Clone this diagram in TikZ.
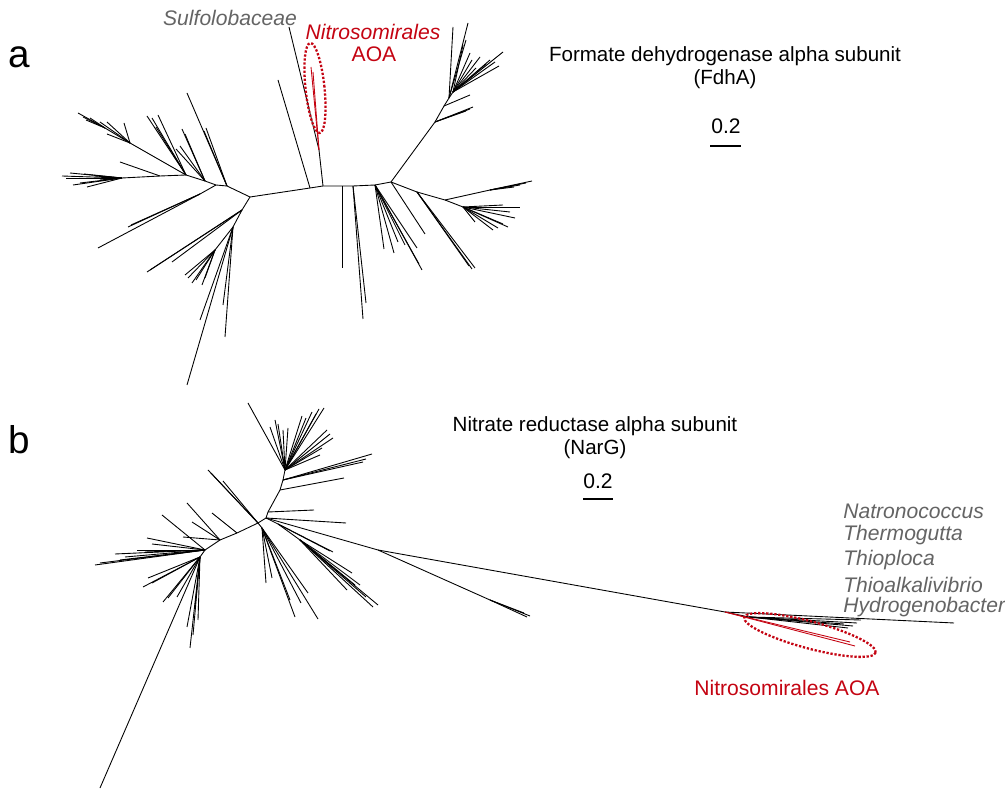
\documentclass[tikz,border=0pt]{standalone}
\usepackage{fontspec}
\setmainfont{Liberation Sans}
\usetikzlibrary{shapes.geometric}
\definecolor{aoared}{RGB}{196,4,18}
\definecolor{taxgray}{RGB}{100,100,100}

\begin{document}
\begin{tikzpicture}
  [x=0.02cm, y=-0.02cm,
   branch/.style={line width=0.5pt},
   aoa/.style={line width=0.5pt, draw=aoared},
   every node/.style={inner sep=0pt, font=\fontsize{12}{14}\selectfont},
   taxon/.style={text=taxgray, font=\fontsize{12}{14}\selectfont\itshape},
   title/.style={align=center, font=\fontsize{11.7}{13.2}\selectfont},
   ring/.style={ellipse, draw=aoared, densely dotted, line width=1.3pt},
   panel/.style={font=\fontsize{22}{24}\selectfont},
   bar/.style={line width=1.7pt}]
  \useasboundingbox (0,0) rectangle (1005,790);

  % ---- a: FdhA tree ----
  \coordinate (a1) at (250,197);
  \coordinate (a2) at (310,188);
  \coordinate (a3) at (323,186);
  \coordinate (a4) at (342,186);
  \coordinate (a5) at (353,186);
  \coordinate (a6) at (375,185);
  \coordinate (a7) at (391,182);
  \draw[branch] (a1) -- (a2) -- (a3) -- (a4) -- (a5) -- (a6) -- (a7);

  % upper left clade
  \coordinate (al1) at (227,186);
  \coordinate (al2) at (216,185);
  \coordinate (al3) at (205,181);
  \coordinate (al4) at (186,175);
  \coordinate (al5) at (130,143);
  \coordinate (al6) at (122,178);
  \coordinate (al7) at (200,194);
  \coordinate (al8) at (105,128);
  \coordinate (al9) at (160,176);
  \draw[branch] (a1) -- (al1) -- (al2) -- (al3) -- (al4) -- (al5) -- (al8) -- (78,113);
  \draw[branch] (al4) -- (al9) -- (al6);
  \draw[branch] (al2) -- (al7);
  \foreach \p in {(187,93),(206,128),(204,131)} \draw[branch] (al1) -- \p;
  \foreach \p in {(182,129),(185,134),(180,146),(176,149)} \draw[branch] (al3) -- \p;
  \foreach \p in {(158,115),(147,116),(152,118),(156,127)} \draw[branch] (al4) -- \p;
  \foreach \p in {(100,122),(107,122),(124,123),(107,134)} \draw[branch] (al5) -- \p;
  \foreach \p in {(83,117),(90,118),(86,120)} \draw[branch] (al8) -- \p;
  \foreach \p in {(62,176),(66,178),(73,185),(80,183),(87,187),(70,173),(84,174),(95,176),(100,180)}
    \draw[branch] (al6) -- \p;
  \draw[branch] (al9) -- (120,162);
  \foreach \p in {(98,248),(128,227),(131,225)} \draw[branch] (al7) -- \p;

  % lower left clade
  \coordinate (ab1) at (242,210);
  \coordinate (ab2) at (233,227);
  \coordinate (ab3) at (215,250);
  \draw[branch] (a1) -- (ab1) -- (ab2) -- (ab3);
  \foreach \p in {(147,272),(150,270),(172,262)} \draw[branch] (ab1) -- \p;
  \foreach \p in {(185,275),(188,278),(192,283),(196,280),(202,285),(205,278)} \draw[branch] (ab3) -- \p;
  \foreach \p in {(225,337),(223,305),(187,385),(200,320)} \draw[branch] (ab2) -- \p;

  % upper right clade
  \coordinate (ar1) at (435,122);
  \coordinate (ar2) at (444,106);
  \coordinate (ar3) at (449,98);
  \coordinate (ar4) at (453,92);
  \draw[branch] (a7) -- (ar1) -- (ar2) -- (ar3) -- (ar4);
  \foreach \p in {(473,107),(470,109),(466,111)} \draw[branch] (ar1) -- \p;
  \draw[branch] (ar2) -- (470,95);
  \foreach \p in {(453,27),(468,23),(466,40)} \draw[branch] (ar3) -- \p;
  \foreach \p in {(503,52),(499,66),(480,57),(470,53),(490,60),(486,64),(495,62),(476,68),(463,45),(472,60)}
    \draw[branch] (ar4) -- \p;

  % lower right clade
  \coordinate (aq1) at (417,192);
  \coordinate (aq2) at (445,200);
  \coordinate (aq3) at (490,190);
  \coordinate (aq4) at (463,207);
  \draw[branch] (a7) -- (aq1) -- (aq2) -- (aq3);
  \draw[branch] (aq2) -- (aq4);
  \draw[branch] (a7) -- (425,234);
  \foreach \p in {(475,268),(472,269),(469,266)} \draw[branch] (aq1) -- \p;
  \foreach \p in {(532,181),(526,183),(520,185),(514,187)} \draw[branch] (aq3) -- \p;
  \foreach \p in {(520,207),(503,205),(510,212),(508,227),(503,224),(493,230),(498,228),(475,222),(515,218)}
    \draw[branch] (aq4) -- \p;

  % leaves under the backbone
  \draw[branch] (a4) -- (342,268);
  \foreach \p in {(363,319),(366,303)} \draw[branch] (a5) -- \p;
  \foreach \p in {(384,249),(394,253),(398,242),(417,248),(422,270),(419,264),(405,245)}
    \draw[branch] (a6) -- \p;

  % Sulfolobaceae and AOA
  \coordinate (as1) at (319,150);
  \draw[branch] (a2) -- (278,80);
  \draw[branch] (a3) -- (as1) -- (289,27);
  \draw[aoa] (as1) -- (311,67);
  \draw[aoa] (as1) -- (313,72);
  \node[ring, minimum width=0.38cm, minimum height=1.81cm, rotate=6] (ringa) at (315,88) {};

  \node[panel] (laba) at (19,57) {a};
  \node[taxon] (sulfo) at (230,18) {Sulfolobaceae};
  \node[text=aoared, font=\fontsize{12}{14}\selectfont\itshape] (nitroa) at (373,32) {Nitrosomirales};
  \node[text=aoared] (aoaa) at (374,54) {AOA};
  \node[title] (titlea) at (725,68) {Formate dehydrogenase alpha subunit\\(FdhA)};
  \node (scalea) at (726,126) {0.2};
  \draw[bar] (710,146) -- (741,146);

  % ---- b: NarG tree ----
  \coordinate (b1) at (258,523);
  \coordinate (b2) at (266,518);
  \coordinate (b3) at (262,528);
  \draw[branch] (b1) -- (b2);
  \draw[branch] (b1) -- (b3);

  % top clade
  \coordinate (bt1) at (268,512);
  \coordinate (bt2) at (280,490);
  \coordinate (bt3) at (283,480);
  \coordinate (bt4) at (285,470);
  \draw[branch] (b2) -- (bt1) -- (bt2) -- (bt3) -- (bt4);
  \draw[branch] (bt1) -- (314,510);
  \draw[branch] (bt2) -- (344,478);
  \foreach \p in {(372,454),(363,462),(366,459)} \draw[branch] (bt3) -- \p;
  \foreach \p in {(248,403),(270,427),(275,420),(278,424),(283,430),(288,428),(302,416),(306,418),(312,412),
                  (319,409),(324,408),(327,430),(333,438),(322,448),(320,455),(330,434),(316,414)}
    \draw[branch] (bt4) -- \p;

  % right clade
  \coordinate (bu1) at (278,524);
  \coordinate (bu2) at (300,540);
  \draw[branch] (b2) -- (346,523);
  \draw[branch] (b2) -- (bu1) -- (bu2);
  \foreach \p in {(333,552),(330,551)} \draw[branch] (bu1) -- \p;
  \foreach \p in {(378,605),(373,607),(347,590),(352,573),(360,585),(366,597),(355,585)} \draw[branch] (bu2) -- \p;

  % long branch
  \coordinate (bl1) at (378,550);
  \coordinate (bl2) at (490,600);
  \coordinate (bl3) at (725,612);
  \coordinate (bl4) at (749,617);
  \draw[branch] (b2) -- (bl1) -- (bl3) -- (954,623);
  \draw[branch] (bl1) -- (bl2);
  \foreach \p in {(530,616),(527,617),(524,613)} \draw[branch] (bl2) -- \p;
  \draw[branch] (bl3) -- (bl4);
  \foreach \p in {(861,620),(857,623),(853,626),(848,628),(844,624)} \draw[branch] (bl4) -- \p;
  \draw[aoa] (bl3) -- (855,646);
  \draw[aoa] (bl3) -- (850,642);
  \node[ring, minimum width=2.72cm, minimum height=0.54cm, rotate=-15] (ringb) at (810,635) {};

  % lower clade
  \foreach \p in {(266,583),(272,578),(295,617),(318,619),(308,593),(301,603),(290,600)} \draw[branch] (b3) -- \p;

  % left clade
  \coordinate (bv1) at (237,533);
  \coordinate (bv2) at (220,540);
  \coordinate (bv3) at (205,550);
  \coordinate (bv4) at (200,557);
  \draw[branch] (b1) -- (bv1) -- (bv2) -- (bv3) -- (bv4);
  \foreach \p in {(208,470),(223,481),(211,473)} \draw[branch] (b1) -- \p;
  \draw[branch] (bv1) -- (212,513);
  \foreach \p in {(187,503),(192,522),(183,537)} \draw[branch] (bv2) -- \p;
  \foreach \p in {(162,515),(147,538),(95,565),(100,563),(115,554),(125,557),(137,550),(145,552),(120,560),(152,544)}
    \draw[branch] (bv3) -- \p;
  \foreach \p in {(143,587),(148,578),(152,583),(163,602),(168,598),(177,597),(187,627),(190,648),(195,607),(193,635),(198,620)}
    \draw[branch] (bv4) -- \p;
  \draw[branch] (bv4) -- (100,788);

  \node[panel] (labb) at (19,440) {b};
  \node[title] (titleb) at (595,438) {Nitrate reductase alpha subunit\\(NarG)};
  \node (scaleb) at (598,481) {0.2};
  \draw[bar] (583,499) -- (613,499);
  \node[taxon, anchor=west] (natro) at (843,511) {Natronococcus};
  \node[taxon, anchor=west] (thermo) at (843,535) {Thermogutta};
  \node[taxon, anchor=west] (thiop) at (843,560) {Thioploca};
  \node[taxon, anchor=west] (thioa) at (843,585) {Thioalkalivibrio};
  \node[taxon, anchor=west] (hydro) at (843,607) {Hydrogenobacter};
  \node[text=aoared] (aoab) at (787,688) {Nitrosomirales AOA};
\end{tikzpicture}
\end{document}
